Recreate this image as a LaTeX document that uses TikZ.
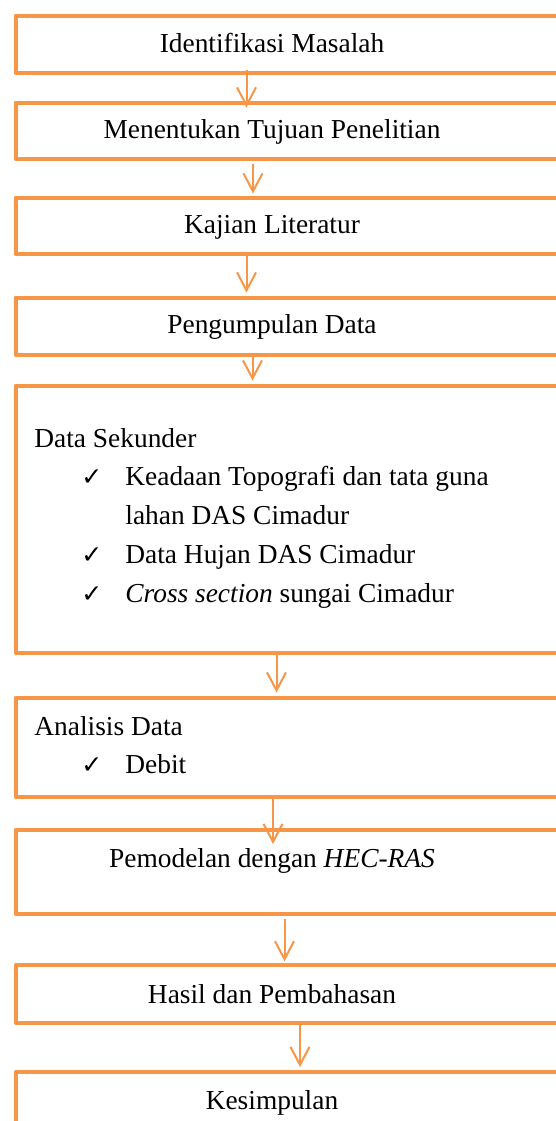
\documentclass[tikz,border=0pt]{standalone}
\usepackage{fontspec}
\setmainfont{Liberation Serif}
\newfontfamily\symfont{DejaVu Sans}
\usetikzlibrary{arrows.meta,calc}
\definecolor{flow}{HTML}{F79646}
\begin{document}
\begin{tikzpicture}[x=0.5pt,y=-0.5pt,
  stage/.style={draw=flow,line width=2pt,rectangle,anchor=north west,
    inner sep=0pt,minimum width=313pt,line join=round},
  txt/.style={font=\fontsize{13.7}{16}\selectfont,inner sep=0pt},
  tick/.style={font=\symfont\bfseries\fontsize{12.5}{14}\selectfont,inner sep=0pt,anchor=base west},
  arr/.style={draw=flow,line width=1pt,-{Straight Barb[length=9pt,width=9.5pt]}},
]
\useasboundingbox (0,0) rectangle (556,1121);

% stage boxes (they run past the right edge of the page)
\node[stage,minimum height=28.5pt]  (b1) at (13.5,13.5)  {};
\node[stage,minimum height=28.25pt] (b2) at (13.5,100.5) {};
\node[stage,minimum height=28.25pt] (b3) at (13.5,195.5) {};
\node[stage,minimum height=28.5pt]  (b4) at (13.5,295.5) {};
\node[stage,minimum height=133.5pt] (b5) at (13.5,383.5) {};
\node[stage,minimum height=49.75pt] (b6) at (13.5,695.5) {};
\node[stage,minimum height=41.75pt] (b7) at (13.5,828)   {};
\node[stage,minimum height=28.6pt]  (b8) at (13.5,963.3) {};
\node[stage,minimum height=60pt]    (b9) at (13.5,1070)  {};

% centred titles
\node[txt,anchor=base] (t1) at (272,52)   {Identifikasi Masalah};
\node[txt,anchor=base] (t2) at (272,138)  {Menentukan Tujuan Penelitian};
\node[txt,anchor=base] (t3) at (272,233)  {Kajian Literatur};
\node[txt,anchor=base] (t4) at (272,333)  {Pengumpulan Data};
\node[txt,anchor=base] (t7) at (272,867)  {Pemodelan dengan \textit{HEC-RAS}};
\node[txt,anchor=base] (t8) at (272,1003) {Hasil dan Pembahasan};
\node[txt,anchor=base] (t9) at (272,1109) {Kesimpulan};

% secondary data list
\node[txt,anchor=base west] (s0) at (34,447) {Data Sekunder};
\node[tick] (c1) at (81,485) {✓};
\node[txt,anchor=base west] (s1) at (125,485) {Keadaan Topografi dan tata guna};
\node[txt,anchor=base west] (s1b) at (125,524) {lahan DAS Cimadur};
\node[tick] (c2) at (81,563) {✓};
\node[txt,anchor=base west] (s2) at (125,563) {Data Hujan DAS Cimadur};
\node[tick] (c3) at (81,602) {✓};
\node[txt,anchor=base west] (s3) at (125,602) {\textit{Cross section} sungai Cimadur};

% data analysis list
\node[txt,anchor=base west] (d0) at (34,735) {Analisis Data};
\node[tick] (c4) at (81,773) {✓};
\node[txt,anchor=base west] (d1) at (125,773) {Debit};

% connectors
\draw[arr] ($(b1.south west)+(233,-5)$)   -- ($(b2.north west)+(233,7)$);
\draw[arr] ($(b2.south west)+(239.5,3)$)  -- ($(b3.north west)+(239.5,-2)$);
\draw[arr] ($(b3.south west)+(233,0)$)    -- ($(b4.north west)+(233,-3)$);
\draw[arr] ($(b4.south west)+(239,0)$)    -- ($(b5.north west)+(239,-3)$);
\draw[arr] ($(b5.south west)+(263,0)$)    -- ($(b6.north west)+(263,-3)$);
\draw[arr] ($(b6.south west)+(259.5,0)$)  -- ($(b7.north west)+(259.5,16)$);
\draw[arr] ($(b7.south west)+(271,3)$)    -- ($(b8.north west)+(271,-2)$);
\draw[arr] ($(b8.south west)+(286.5,0)$)  -- ($(b9.north west)+(286.5,-3)$);
\end{tikzpicture}
\end{document}
